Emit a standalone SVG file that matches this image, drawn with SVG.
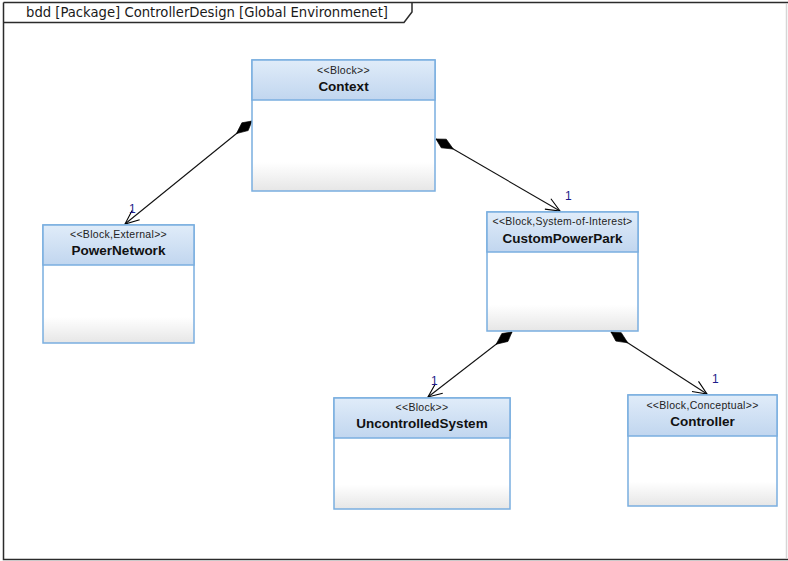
<svg xmlns="http://www.w3.org/2000/svg" width="788" height="561" viewBox="0 0 788 561">
  <style>
    .frame { fill: none; stroke: #2b2b2b; stroke-width: 1.5; }
    .hdr { fill: url(#hdrGrad); stroke: #7aaee0; stroke-width: 1.5; }
    .body { fill: url(#bodyGrad); stroke: #7aaee0; stroke-width: 1.5; }
    .stereo { font-family: "Liberation Sans", Arial, sans-serif; font-size: 10.5px; fill: #222; text-anchor: middle; letter-spacing: 0.3px; }
    .name { font-family: "Liberation Sans", Arial, sans-serif; font-size: 13.5px; font-weight: bold; fill: #111; text-anchor: middle; }
    .conn { fill: none; stroke: #111; stroke-width: 1.1; marker-start: url(#diamond); marker-end: url(#openArrow); }
    .mult { font-family: "Liberation Sans", Arial, sans-serif; font-size: 12px; fill: #1c1c8a; }
    .title { font-family: "DejaVu Sans Condensed", "Liberation Sans", Arial, sans-serif; font-size: 14px; fill: #1a1a1a; }
  </style>
  <defs>
    <linearGradient id="hdrGrad" x1="0" y1="0" x2="0" y2="1">
      <stop offset="0" stop-color="#e0ecf9"/>
      <stop offset="1" stop-color="#c1d6ef"/>
    </linearGradient>
    <linearGradient id="bodyGrad" x1="0" y1="0" x2="0" y2="1">
      <stop offset="0" stop-color="#ffffff"/>
      <stop offset="0.78" stop-color="#ffffff"/>
      <stop offset="1" stop-color="#e6e6e6"/>
    </linearGradient>
    <marker id="diamond" markerUnits="userSpaceOnUse" markerWidth="24" markerHeight="12" viewBox="0 -6 24 12" refX="0" refY="0" orient="auto" overflow="visible">
      <path d="M0,0 L9,-5 L20,0 L9,5 Z" fill="#000" stroke="#000" stroke-width="0.6"/>
    </marker>
    <marker id="openArrow" markerUnits="userSpaceOnUse" markerWidth="16" markerHeight="14" viewBox="-16 -7 16 14" refX="0" refY="0" orient="auto" overflow="visible">
      <path d="M-14,-6 L0,0 L-14,6" fill="none" stroke="#000" stroke-width="1.1"/>
    </marker>
  </defs>

  <rect x="0" y="0" width="788" height="561" fill="#ffffff"/>

  <g id="frame">
    <path class="frame" d="M3.5,2.5 H788 M3.5,2.5 V559.5 H788"/>
    <line x1="786.5" y1="4" x2="786.5" y2="558" stroke="#d6d6d6" stroke-width="1.5"/>
    <path class="frame" d="M3.5,22.5 H404 L412,12 V2.5"/>
    <text class="title" x="26" y="17" textLength="362" lengthAdjust="spacingAndGlyphs">bdd [Package] ControllerDesign [Global Environmenet]</text>
  </g>

  <g id="connectors">
    <path class="conn" d="M252,121 L125,224"/>
    <path class="conn" d="M436,139 L560,211"/>
    <path class="conn" d="M512,332 L428,397"/>
    <path class="conn" d="M611,332 L707,394"/>
    <text class="mult" x="129" y="213">1</text>
    <text class="mult" x="565" y="200">1</text>
    <text class="mult" x="431" y="385">1</text>
    <text class="mult" x="712" y="383">1</text>
  </g>

  <g id="Context">
    <rect class="body" x="252" y="60" width="183" height="131"/>
    <rect class="hdr" x="252" y="60" width="183" height="40"/>
    <text class="stereo" x="343.5" y="74">&lt;&lt;Block&gt;&gt;</text>
    <text class="name" x="343.5" y="91">Context</text>
  </g>

  <g id="PowerNetwork">
    <rect class="body" x="43" y="225" width="151" height="118"/>
    <rect class="hdr" x="43" y="225" width="151" height="40"/>
    <text class="stereo" x="118.5" y="238">&lt;&lt;Block,External&gt;&gt;</text>
    <text class="name" x="118.5" y="255">PowerNetwork</text>
  </g>

  <g id="CustomPowerPark">
    <rect class="body" x="487" y="212" width="151" height="119"/>
    <rect class="hdr" x="487" y="212" width="151" height="40"/>
    <text class="stereo" x="562.5" y="225" textLength="140" lengthAdjust="spacingAndGlyphs">&lt;&lt;Block,System-of-Interest&gt;</text>
    <text class="name" x="562.5" y="243">CustomPowerPark</text>
  </g>

  <g id="UncontrolledSystem">
    <rect class="body" x="334" y="398" width="176" height="111"/>
    <rect class="hdr" x="334" y="398" width="176" height="40"/>
    <text class="stereo" x="422" y="411">&lt;&lt;Block&gt;&gt;</text>
    <text class="name" x="422" y="428">UncontrolledSystem</text>
  </g>

  <g id="Controller">
    <rect class="body" x="628" y="395" width="149" height="111"/>
    <rect class="hdr" x="628" y="395" width="149" height="41"/>
    <text class="stereo" x="702.5" y="409">&lt;&lt;Block,Conceptual&gt;&gt;</text>
    <text class="name" x="702.5" y="426">Controller</text>
  </g>
</svg>
